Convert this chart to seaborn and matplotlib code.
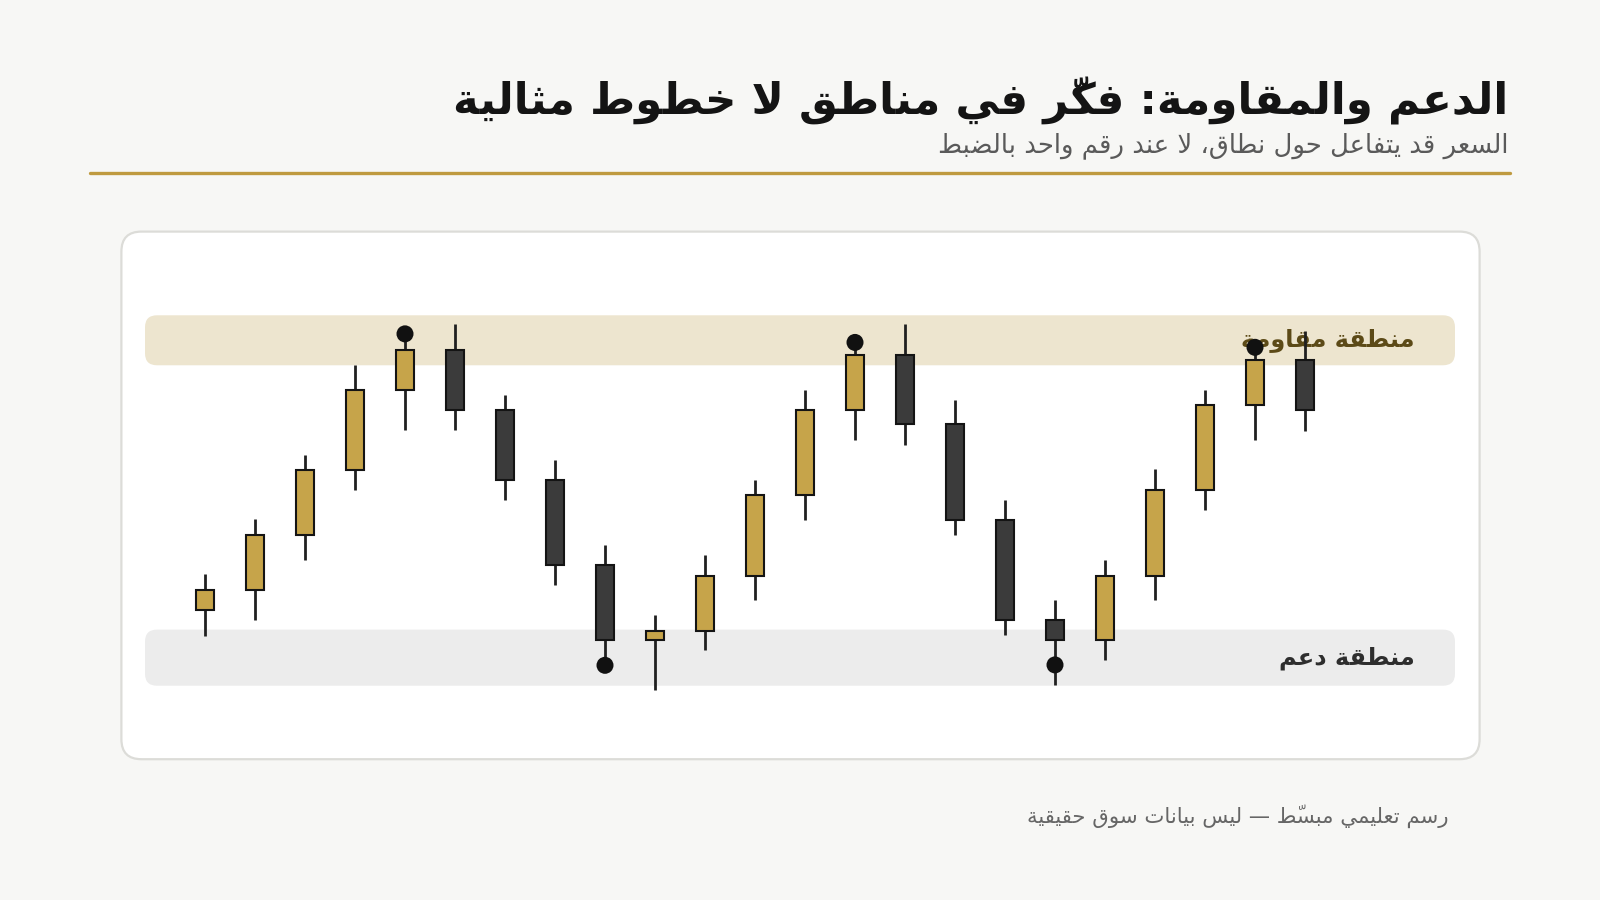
import numpy as np
import pandas as pd
import matplotlib
matplotlib.use("Agg")
import matplotlib.pyplot as plt
from matplotlib.patches import FancyBboxPatch
from matplotlib.lines import Line2D
import seaborn as sns

# --- Text ---
TITLE = "الدعم والمقاومة: فكّر في مناطق لا خطوط مثالية"
SUBTITLE = "السعر قد يتفاعل حول نطاق، لا عند رقم واحد بالضبط"
RES_LABEL = "منطقة مقاومة"
SUP_LABEL = "منطقة دعم"
FOOTER = "رسم تعليمي مبسّط — ليس بيانات سوق حقيقية"

# --- Data (illustrative price units) ---
opens = [40.5, 45.5, 59, 74.75, 94.5, 104.25, 89.5, 72.5, 51.5, 33.25, 35.5, 49,
         68.75, 89.5, 103, 86, 62.5, 38, 33.25, 49, 70, 90.75, 101.75]
closes = [45.5, 59, 74.75, 94.5, 104.25, 89.5, 72.5, 51.5, 33.25, 35.5, 49, 68.75,
          89.5, 103, 86, 62.5, 38, 33.25, 49, 70, 90.75, 101.75, 89.5]
highs = [49.25, 62.75, 78.5, 100.5, 107.5, 110.5, 93.25, 77.25, 56.5, 39.25, 54, 72.5,
         94.5, 105.5, 110.5, 92, 67.5, 43, 52.75, 75, 94.5, 104.5, 109]
lows = [34.25, 38, 52.75, 70, 84.75, 84.75, 67.5, 46.75, 27, 21, 30.75, 43,
        62.5, 82.25, 81, 59, 34.5, 22.25, 28.25, 43, 65, 82.25, 84.5]

# candles that touch a zone
touch_idx = [4, 8, 13, 17, 21]
touch_price = [108.2, 27, 106.1, 27.1, 104.9]

resistance_zone = [100.5, 112.75]
support_zone = [22, 35.75]

# --- Colours ---
BG = "#f7f7f5"
GOLD = "#c6a44a"
DARK = "#3b3b3b"
EDGE = "#141414"
RULE = "#bf9a3f"


# --- minimal Arabic shaping (matplotlib has no text shaping) ---
DUAL = {'ب': 0xFE8F, 'ت': 0xFE95, 'ث': 0xFE99, 'ج': 0xFE9D, 'ح': 0xFEA1, 'خ': 0xFEA5,
        'س': 0xFEB1, 'ش': 0xFEB5, 'ص': 0xFEB9, 'ض': 0xFEBD, 'ط': 0xFEC1, 'ظ': 0xFEC5,
        'ع': 0xFEC9, 'غ': 0xFECD, 'ف': 0xFED1, 'ق': 0xFED5, 'ك': 0xFED9, 'ل': 0xFEDD,
        'م': 0xFEE1, 'ن': 0xFEE5, 'ه': 0xFEE9, 'ي': 0xFEF1, 'ئ': 0xFE89}
RIGHT = {'ا': 0xFE8D, 'أ': 0xFE83, 'إ': 0xFE87, 'آ': 0xFE81, 'ة': 0xFE93, 'د': 0xFEA9,
         'ذ': 0xFEAB, 'ر': 0xFEAD, 'ز': 0xFEAF, 'و': 0xFEED, 'ى': 0xFEEF, 'ؤ': 0xFE85}
LAM_ALEF = {'ا': (0xFEFB, 0xFEFC), 'أ': (0xFEF7, 0xFEF8),
            'إ': (0xFEF9, 0xFEFA), 'آ': (0xFEF5, 0xFEF6)}
MARKS = {chr(c) for c in range(0x064B, 0x0653)}


def shape(text):
    chars = list(text)
    n = len(chars)

    def neighbour(i, step):
        j = i + step
        while 0 <= j < n and chars[j] in MARKS:
            j += step
        return chars[j] if 0 <= j < n else None

    clusters = []
    i = 0
    while i < n:
        c = chars[i]
        if c in MARKS:
            clusters[-1].append(c)
            i += 1
            continue
        joins_prev = neighbour(i, -1) in DUAL
        if c == 'ل':
            j = i + 1
            marks = []
            while j < n and chars[j] in MARKS:
                marks.append(chars[j])
                j += 1
            if j < n and chars[j] in LAM_ALEF:
                iso, fin = LAM_ALEF[chars[j]]
                clusters.append([chr(fin if joins_prev else iso)] + marks)
                i = j + 1
                continue
        nxt = neighbour(i, 1)
        joins_next = c in DUAL and (nxt in DUAL or nxt in RIGHT)
        if c in DUAL:
            off = 3 if (joins_prev and joins_next) else 1 if joins_prev else 2 if joins_next else 0
            clusters.append([chr(DUAL[c] + off)])
        elif c in RIGHT:
            clusters.append([chr(RIGHT[c] + (1 if joins_prev else 0))])
        else:
            clusters.append([c])
        i += 1
    # visual order: clusters right-to-left, marks placed just before their base
    return ''.join(''.join(reversed(cl)) for cl in reversed(clusters))


sns.set_theme(style="white")
plt.rcParams['font.family'] = ['DejaVu Sans']

df = pd.DataFrame({'idx': np.arange(len(opens)), 'open': opens, 'close': closes,
                   'high': highs, 'low': lows})
df['up'] = df['close'] >= df['open']

fig = plt.figure(figsize=(16, 9), dpi=100, facecolor=BG)

# header
fig.text(0.9426, 0.888, shape(TITLE), ha='right', va='center', fontsize=31.3,
         fontweight='bold', color='#141414')
fig.text(0.9426, 0.838, shape(SUBTITLE), ha='right', va='center', fontsize=18.6,
         color='#5a5a5a')
fig.add_artist(Line2D([90 / 1600, 1510 / 1600], [1 - 172.5 / 900] * 2,
                      transform=fig.transFigure, color=RULE, lw=2.4))

# card
card = FancyBboxPatch((1.214, 1.408), 13.582, 5.276,
                      boxstyle="round,pad=0,rounding_size=0.2",
                      transform=fig.dpi_scale_trans, facecolor='white',
                      edgecolor='#dcdcd8', lw=1.6, zorder=0)
fig.add_artist(card)

ax = fig.add_axes([145 / 1600, 1 - 759.2 / 900, 1310 / 1600, 527.6 / 900])
ax.set_facecolor('none')
ax.set_xlim(-1.2, 25)
ax.set_ylim(4, 133.25)
ax.axis('off')

# zone bands with rounded ends
x0, x1 = ax.get_xlim()
y0, y1 = ax.get_ylim()
aspect = (1310 / (x1 - x0)) / (527.6 / (y1 - y0))
for zone, col in [(resistance_zone, '#ede5cf'), (support_zone, '#ececec')]:
    ax.add_patch(FancyBboxPatch((x0, zone[0]), x1 - x0, zone[1] - zone[0],
                                boxstyle="round,pad=0,rounding_size=0.24",
                                mutation_aspect=aspect, facecolor=col,
                                edgecolor='none', zorder=1))

ax.text(24.19, np.mean(resistance_zone), shape(RES_LABEL), ha='right', va='center',
        fontsize=17.3, fontweight='bold', color='#5c4a17', zorder=2)
ax.text(24.19, np.mean(support_zone), shape(SUP_LABEL), ha='right', va='center',
        fontsize=17.3, fontweight='bold', color='#2e2e2e', zorder=2)

# candles
ax.vlines(df['idx'], df['low'], df['high'], color='#202020', lw=2.0, zorder=3)
ax.bar(df['idx'], df['close'] - df['open'], bottom=df['open'], width=0.36,
       color=np.where(df['up'], GOLD, DARK), edgecolor=EDGE, linewidth=1.5, zorder=4)

sns.scatterplot(x=touch_idx, y=touch_price, ax=ax, s=150, color='#111111',
                edgecolor='none', zorder=5, legend=False)

fig.text(0.9056, 0.093, shape(FOOTER), ha='right', va='center', fontsize=15.3,
         color='#666666')

fig.savefig('out.png', dpi=100, facecolor=BG)
